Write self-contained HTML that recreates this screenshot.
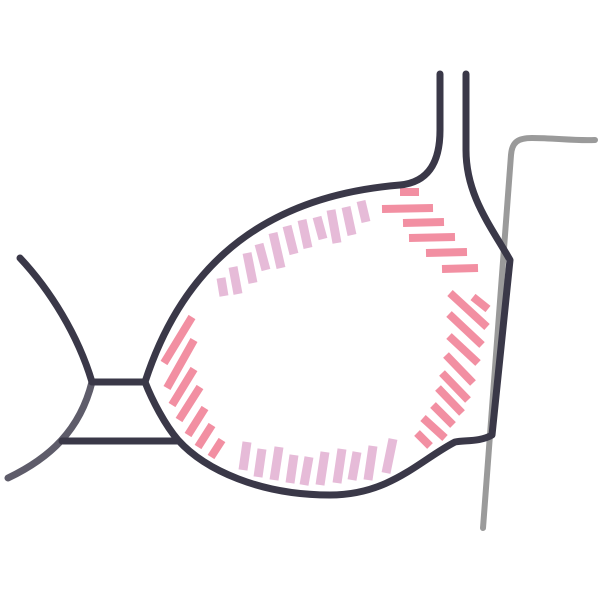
<!DOCTYPE html>
<html><head><style>html,body{margin:0;padding:0;background:#fff}svg{display:block}</style></head>
<body>
<svg width="604" height="604" viewBox="0 0 604 604" xmlns="http://www.w3.org/2000/svg">
<path d="M483,528 L511,155 C512,142 518,138 532,138 C555,138 575,141 595,140" fill="none" stroke="#9a9a9a" stroke-width="6" stroke-linecap="round"/>
<g fill="none" stroke-linecap="butt">
<g stroke="#e6bbd8" stroke-width="9">
<line x1="224" y1="296" x2="221" y2="278"/><line x1="238" y1="294" x2="233" y2="267"/>
<line x1="253" y1="283" x2="247" y2="253"/><line x1="266" y1="270" x2="259" y2="244"/>
<line x1="281" y1="268" x2="273" y2="233"/><line x1="294" y1="254" x2="287" y2="226"/>
<line x1="308" y1="248" x2="302" y2="220"/><line x1="323" y1="239" x2="317" y2="217"/>
<line x1="337" y1="243" x2="331" y2="210"/><line x1="352" y1="235" x2="346" y2="207"/>
<line x1="366" y1="222" x2="361" y2="201"/>
<line x1="247" y1="442" x2="243" y2="470"/><line x1="262" y1="449" x2="258" y2="477"/>
<line x1="279" y1="447" x2="274" y2="480"/><line x1="294" y1="455" x2="290" y2="483"/>
<line x1="309" y1="457" x2="304" y2="485"/><line x1="325" y1="452" x2="320" y2="485"/>
<line x1="342" y1="449" x2="337" y2="483"/><line x1="357" y1="452" x2="352" y2="480"/>
<line x1="373" y1="446" x2="368" y2="480"/><line x1="393" y1="439" x2="386" y2="473"/>
</g>
<g stroke="#f28fa2" stroke-width="8">
<line x1="400" y1="192" x2="419" y2="192"/><line x1="382" y1="209" x2="433" y2="208"/>
<line x1="403" y1="223" x2="444" y2="222"/><line x1="409" y1="238" x2="455" y2="237"/>
<line x1="426" y1="253" x2="467" y2="252"/><line x1="442" y1="269" x2="478" y2="268"/>
<line x1="473" y1="297" x2="488" y2="309"/><line x1="450" y1="293" x2="487" y2="327"/>
<line x1="449" y1="314" x2="482" y2="345"/><line x1="449" y1="336" x2="478" y2="363"/>
<line x1="446" y1="355" x2="473" y2="383"/><line x1="442" y1="373" x2="468" y2="400"/>
<line x1="438" y1="388" x2="462" y2="413"/><line x1="433" y1="405" x2="453" y2="425"/>
<line x1="423" y1="418" x2="445" y2="438"/><line x1="417" y1="433" x2="430" y2="446"/>
<line x1="192" y1="317" x2="164" y2="363"/><line x1="194" y1="340" x2="167" y2="388"/>
<line x1="194" y1="369" x2="172" y2="405"/><line x1="200" y1="387" x2="179" y2="420"/>
<line x1="205" y1="408" x2="188" y2="435"/><line x1="212" y1="425" x2="198" y2="447"/>
<line x1="222" y1="440" x2="211" y2="457"/>
</g>
</g>
<g fill="none" stroke-width="7" stroke-linecap="round" stroke-linejoin="round">
<path d="M92,382 C80,430 50,458 8,478" stroke="#5e5c6a"/>
<g stroke="#3a3848">
<path d="M20,258 C50,290 78,335 92,382 L145,382"/>
<path d="M62,441 L178,441"/>
<path d="M145,382 C175,290 240,198 400,185 C430,182 440,160 440,130 L440,74"/>
<path d="M466,74 L466,150 C466,195 490,225 510,260 L492,435 C480,442 465,440 455,442 C420,460 390,495 330,495 C260,495 205,470 178,440 C165,425 152,400 145,382"/>
</g>
</g>
</svg>
</body></html>
